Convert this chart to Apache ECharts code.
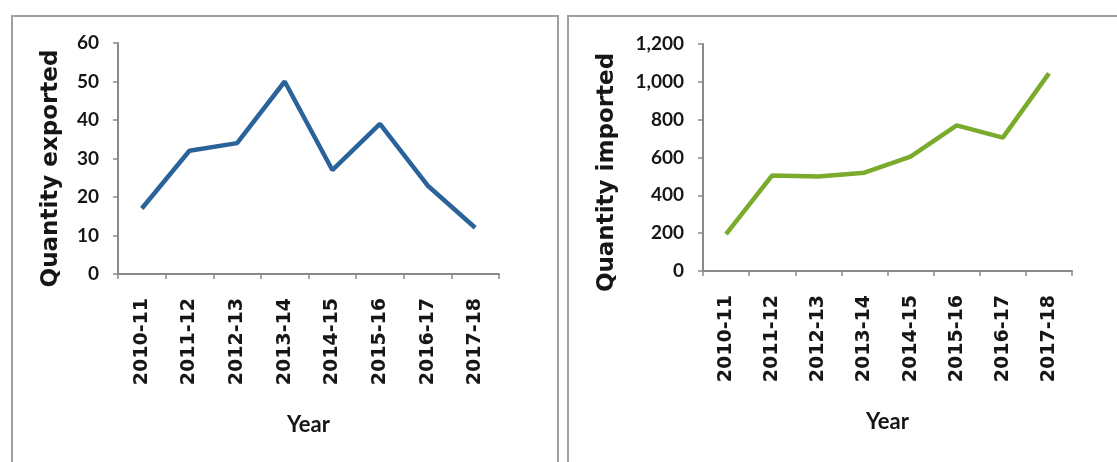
<!DOCTYPE html>
<html>
<head>
<meta charset="utf-8">
<script src="https://cdn.jsdelivr.net/npm/echarts@6/dist/echarts.min.js"></script>
<style>
html,body{margin:0;padding:0;background:#fff;}
#c{width:1117px;height:462px;}
</style>
</head>
<body>
<div id="c"></div>
<script>
const years = ['2010-11','2011-12','2012-13','2013-14','2014-15','2015-16','2016-17','2017-18'];
const exported = [17, 32, 34, 50, 27, 39, 23, 12];
const imported = [195, 505, 500, 520, 605, 770, 705, 1045];
const exportTicks = [0, 60, 10];
const importTicks = [0, 1200, 200];

const FONT = 'Lato';
const TXT = '#161616';
const AX = '#8a8a8a';

function xAxis(gi) {
  return {
    type: 'category', gridIndex: gi, data: years, boundaryGap: true,
    name: 'Year', nameLocation: 'middle', nameGap: 140,
    nameTextStyle: {fontFamily: FONT, fontWeight: 'bold', fontSize: 22, color: TXT},
    axisLine: {lineStyle: {color: AX, width: 2}},
    axisTick: {show: true, length: 5, alignWithLabel: false, lineStyle: {color: AX, width: 1.5}},
    axisLabel: {rotate: 90, interval: 0, margin: 24, fontFamily: 'DejaVu Sans', fontWeight: 'bold', fontSize: 19, color: TXT},
    splitLine: {show: false}
  };
}
function yAxis(gi, t, name, gap, shift, fmt) {
  return {
    type: 'value', gridIndex: gi, min: t[0], max: t[1], interval: t[2],
    name: name, nameLocation: 'middle', nameGap: gap, nameRotate: 90,
    nameTextStyle: {fontFamily: 'DejaVu Sans', fontWeight: 'bold', fontSize: 23, color: TXT, padding: [0, shift, 0, 0]},
    axisLine: {show: true, lineStyle: {color: AX, width: 2}},
    axisTick: {show: true, length: 5, lineStyle: {color: AX, width: 1.5}},
    axisLabel: {margin: 19, fontFamily: FONT, fontWeight: 'bold', fontSize: 19, color: TXT, formatter: fmt},
    splitLine: {show: false}
  };
}

const chart = echarts.init(document.getElementById('c'), null, {renderer: 'canvas'});
chart.setOption({
  backgroundColor: '#fff',
  animation: false,
  graphic: [
    {type: 'rect', shape: {x: 12, y: 16, width: 546, height: 460}, style: {fill: 'none', stroke: '#a0a0a0', lineWidth: 2}},
    {type: 'rect', shape: {x: 568, y: 16, width: 560, height: 460}, style: {fill: 'none', stroke: '#a0a0a0', lineWidth: 2}}
  ],
  grid: [
    {left: 118, right: 618, top: 43, bottom: 188},
    {left: 703, right: 45, top: 44, bottom: 191}
  ],
  xAxis: [xAxis(0), xAxis(1)],
  yAxis: [
    yAxis(0, exportTicks, 'Quantity exported', 55, 20, v => v),
    yAxis(1, importTicks, 'Quantity imported', 84, 30, v => v.toLocaleString('en-US'))
  ],
  series: [
    {type: 'line', xAxisIndex: 0, yAxisIndex: 0, data: exported, symbol: 'none',
     lineStyle: {color: '#2a6399', width: 4.5}},
    {type: 'line', xAxisIndex: 1, yAxisIndex: 1, data: imported, symbol: 'none',
     lineStyle: {color: '#7aab2c', width: 4.5}}
  ]
});
</script>
</body>
</html>
